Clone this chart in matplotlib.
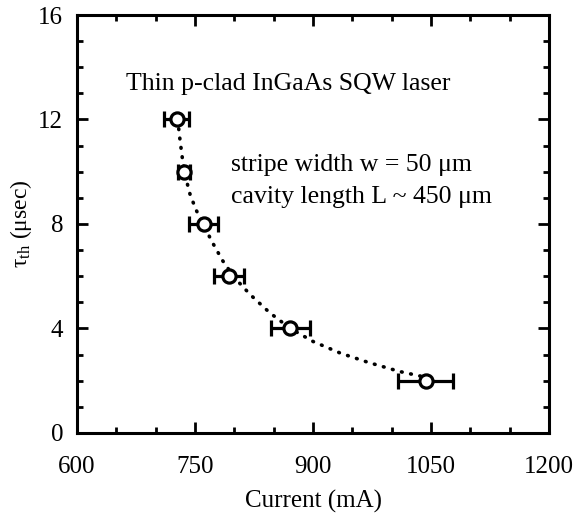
import matplotlib
matplotlib.use('Agg')
import matplotlib.pyplot as plt
from matplotlib.ticker import MultipleLocator

# measured points
current = [727, 736, 761, 793, 871, 1043]      # mA
tau = [12, 10, 8, 6, 4, 2]                      # usec
current_err = [16, 8, 18, 19, 25, 35]

# dotted guide curve
fit_x = [728, 731, 734, 738, 744, 752, 761, 772, 785, 800, 820, 845, 871, 900, 935, 970, 1010, 1040]
fit_y = [12.0, 11.2, 10.5, 9.8, 9.1, 8.5, 7.95, 7.3, 6.6, 5.95, 5.3, 4.6, 4.0, 3.5, 3.05, 2.7, 2.35, 2.15]

plt.rcParams['font.family'] = 'Liberation Serif'
plt.rcParams['mathtext.fontset'] = 'custom'
plt.rcParams['mathtext.rm'] = 'Liberation Serif'
plt.rcParams['mathtext.it'] = 'Liberation Serif:italic'

fig = plt.figure(figsize=(5.81, 5.19), dpi=100)
ax = fig.add_axes([0.1325, 0.166, 0.8125, 0.805])

ax.plot(fit_x, fit_y, linestyle=(0, (0.2, 2.4)), color='black', linewidth=2.6,
        dash_capstyle='round', zorder=1)
ax.errorbar(current, tau, xerr=current_err, fmt='o', color='black', markerfacecolor='white',
            markeredgecolor='black', markersize=9.5, markeredgewidth=2.3, elinewidth=2.3,
            capsize=6, capthick=2.3, zorder=3)

ax.set_xlim(600, 1200)
ax.set_ylim(0, 16)
ax.set_xticks([600, 750, 900, 1050, 1200])
ax.set_yticks([0, 4, 8, 12, 16])
ax.xaxis.set_minor_locator(MultipleLocator(50))
ax.yaxis.set_minor_locator(MultipleLocator(1))
ax.tick_params(which='both', direction='in', top=True, right=True, width=2, labelsize=18)
ax.tick_params(which='major', length=8)
ax.tick_params(axis='x', which='major', pad=17)
ax.tick_params(axis='y', which='major', pad=10)
ax.tick_params(which='minor', length=4)
for s in ax.spines.values():
    s.set_linewidth(2.2)

ax.set_xlabel('Current (mA)', fontsize=18, labelpad=8)
ax.set_ylabel('\u03c4$_{\\rm th}$ (\u03bcsec)', fontsize=17, labelpad=3)

ax.text(662, 13.35, 'Thin p-clad InGaAs SQW laser', fontsize=18.5, va='center')
ax.text(796, 10.25, 'stripe width w = 50 \u03bcm', fontsize=18.5, va='center')
ax.text(796, 9.05, 'cavity length L ~ 450 \u03bcm', fontsize=18.5, va='center')

fig.savefig('out.png', dpi=100)
